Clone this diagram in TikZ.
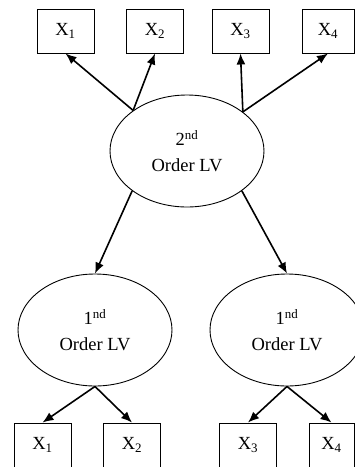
\documentclass[tikz,border=0pt]{standalone}
\usepackage{fontspec}
\setmainfont{Liberation Serif}
\usetikzlibrary{shapes,arrows.meta,positioning,calc}

\begin{document}
\begin{tikzpicture}[x=1pt, y=-1pt,
  obs/.style={draw, line width=0.9pt, minimum width=57pt, minimum height=44pt,
    inner sep=0pt, font=\fontsize{18.5}{26}\selectfont},
  latent/.style={draw, ellipse, line width=0.9pt, minimum width=154pt,
    minimum height=112pt, inner sep=0pt, align=center,
    font=\fontsize{18.5}{26}\selectfont},
  load/.style={-{Latex[length=11pt,width=9pt]}, line width=1.6pt}]

\useasboundingbox (0,0) rectangle (355,467);

% Second order latent variable
\node[latent] (lv2) at (187,151) {2\textsuperscript{nd}\\Order LV};

% Its indicators (top row)
\node[obs] (t1) at (65.5,31) {X\textsubscript{1}};
\node[obs] (t2) at (155,31)  {X\textsubscript{2}};
\node[obs] (t3) at (240.5,31) {X\textsubscript{3}};
\node[obs, minimum width=52pt] (t4) at (328,31) {X\textsubscript{4}};

% First order latent variables
\node[latent] (lv1a) at (95,330)  {1\textsuperscript{nd}\\Order LV};
\node[latent] (lv1b) at (287,330) {1\textsuperscript{nd}\\Order LV};

% Their indicators (bottom row)
\node[obs] (b1) at (42.5,445) {X\textsubscript{1}};
\node[obs] (b2) at (132,445)  {X\textsubscript{2}};
\node[obs] (b3) at (248,445)  {X\textsubscript{3}};
\node[obs, minimum width=45pt] (b4) at (331.5,445) {X\textsubscript{4}};

% Loadings of the second order LV on the items
\draw[load] (lv2.143.5) -- (t1.south);
\draw[load] (lv2.143.5) -- (t2.south);
\draw[load] (lv2.35.5) -- (t3.south);
\draw[load] (lv2.35.5) -- (t4.south);

% Second order -> first order
\draw[load] (lv2.216) -- (lv1a.north);
\draw[load] (lv2.324) -- (lv1b.north);

% First order -> items
\draw[load] (lv1a.south) -- (b1.north);
\draw[load] (lv1a.south) -- (b2.north);
\draw[load] (lv1b.south) -- (b3.north);
\draw[load] (lv1b.south) -- (b4.north);

\end{tikzpicture}
\end{document}
